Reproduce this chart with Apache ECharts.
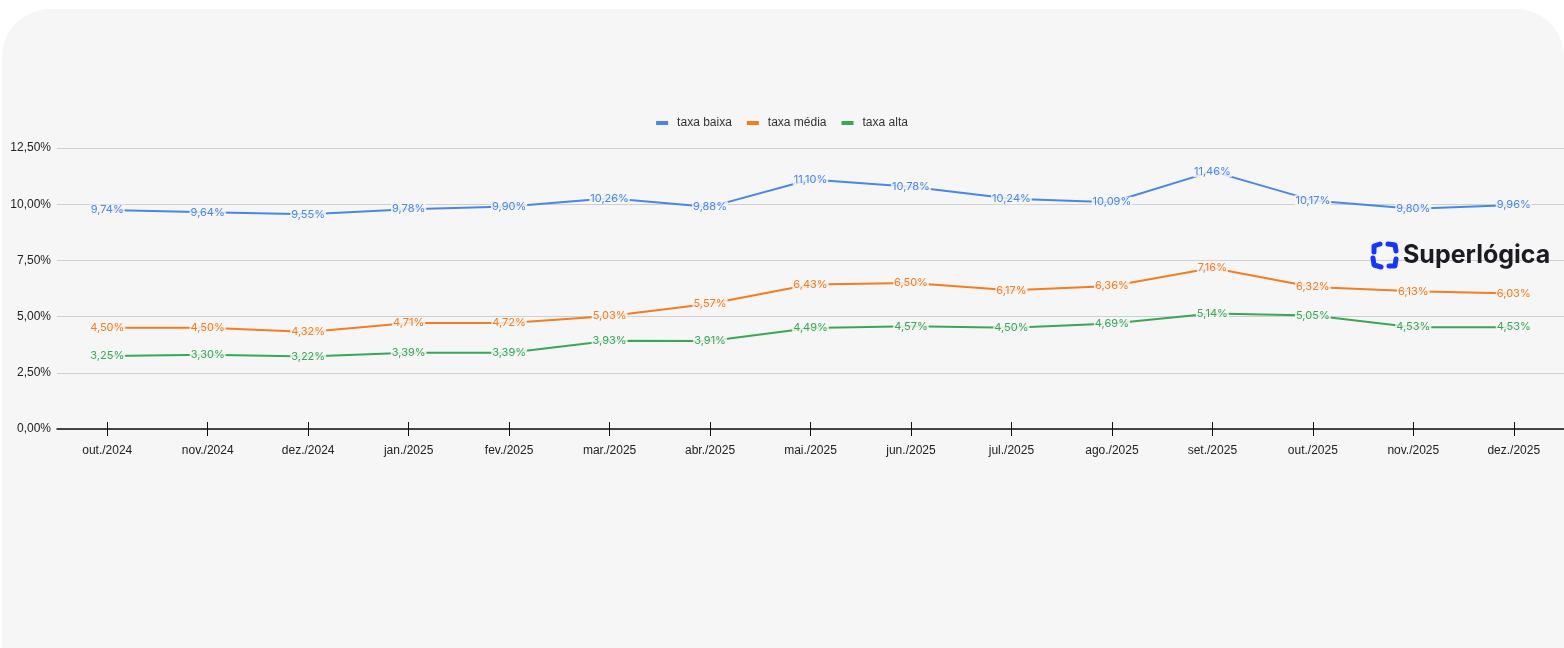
<!DOCTYPE html>
<html><head><meta charset="utf-8">
<script src="https://cdn.jsdelivr.net/npm/echarts@6/dist/echarts.min.js"></script>
<style>html,body{margin:0;padding:0;background:#fff;}#c{width:1564px;height:648px;}</style>
</head><body><div id="c"></div>
<script>
const categories = ['out./2024','nov./2024','dez./2024','jan./2025','fev./2025','mar./2025','abr./2025','mai./2025','jun./2025','jul./2025','ago./2025','set./2025','out./2025','nov./2025','dez./2025'];
const taxaBaixa = [9.74,9.64,9.55,9.78,9.90,10.26,9.88,11.10,10.78,10.24,10.09,11.46,10.17,9.80,9.96];
const taxaMedia = [4.50,4.50,4.32,4.71,4.72,5.03,5.57,6.43,6.50,6.17,6.36,7.16,6.32,6.13,6.03];
const taxaAlta = [3.25,3.30,3.22,3.39,3.39,3.93,3.91,4.49,4.57,4.50,4.69,5.14,5.05,4.53,4.53];
const seriesNames = ['taxa baixa','taxa média','taxa alta'];
const colors = ['#4a86e8','#f57c1f','#3aa757'];

const fmt = v => v.toFixed(2).replace('.', ',') + '%';
const chart = echarts.init(document.getElementById('c'));
function mk(name, data, color){
  return {
    name, type:'line', data, xAxisIndex:0, yAxisIndex:0,
    symbol:'circle', symbolSize:2, showSymbol:true, lineStyle:{color, width:2}, itemStyle:{color},
    label:{show:true, position:'inside', formatter:p=>fmt(p.value), color,
      fontFamily:'Inter', fontSize:11, backgroundColor:'rgba(246,246,246,0.85)', padding:[0,1]},
    labelLayout:{hideOverlap:false}
  };
}
const bracket = (pts) => ({type:'polyline', shape:{points:pts}, style:{stroke:'#1438ff', lineWidth:5, fill:null, lineCap:'round', lineJoin:'round'}, z:10});
chart.setOption({
  animation:false,
  backgroundColor:'#ffffff',
  color:colors,
  graphic:[
    {type:'rect', z:-10, shape:{x:2,y:9,width:1562,height:700,r:[48,48,0,0]}, style:{fill:'#f6f6f6'}, silent:true},
    bracket([[1374,252],[1374,246],[1380,244]]),
    bracket([[1388,244],[1395,245],[1396,251]]),
    bracket([[1396,259],[1395,266],[1389,266]]),
    bracket([[1381,267],[1374,265],[1373,258]]),
    {type:'text', z:10, style:{text:'Superlógica', x:1403, y:255, textVerticalAlign:'middle', font:'bold 25px Inter', fill:'#1b1b22'}}
  ],
  legend:{top:112, left:'center', itemWidth:12, itemHeight:4, itemGap:15, icon:'rect',
    itemStyle:{opacity:1},
    textStyle:{fontFamily:'Liberation Sans', fontSize:12, color:'#333', padding:[0,0,0,4]}, data:seriesNames},
  grid:{left:57, right:0, top:148, height:281, containLabel:false},
  xAxis:[
    {type:'category', data:categories, boundaryGap:true,
     axisLine:{show:true, lineStyle:{color:'#111', width:1.5}},
     axisTick:{show:true, interval:0, alignWithLabel:true, length:7, lineStyle:{color:'#111', width:1}},
     axisLabel:{color:'#222', fontFamily:'Liberation Sans', fontSize:12, margin:16}},
    {type:'category', data:categories, boundaryGap:true, position:'bottom',
     axisLine:{show:false},
     axisTick:{show:true, interval:0, alignWithLabel:true, inside:true, length:7, lineStyle:{color:'#111', width:1}},
     axisLabel:{show:false}}
  ],
  yAxis:{type:'value', min:0, max:12.5, interval:2.5,
    axisLine:{show:false}, axisTick:{show:false},
    splitLine:{lineStyle:{color:'#cfcfcf', width:1}},
    axisLabel:{color:'#222', fontFamily:'Liberation Sans', fontSize:12, margin:6, formatter:v=>v.toFixed(2).replace('.', ',')+'%'}},
  series:[mk(seriesNames[0], taxaBaixa, colors[0]), mk(seriesNames[1], taxaMedia, colors[1]), mk(seriesNames[2], taxaAlta, colors[2])]
});
</script></body></html>
